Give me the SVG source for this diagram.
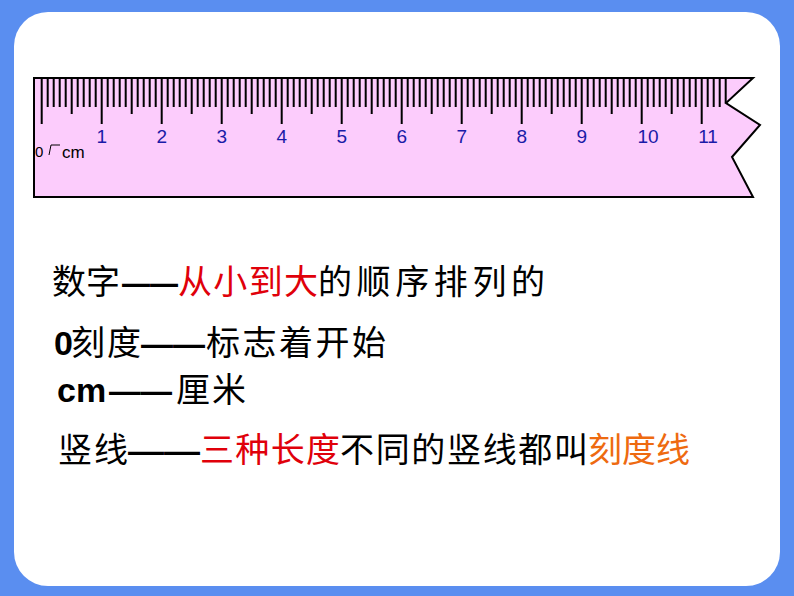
<svg xmlns="http://www.w3.org/2000/svg" width="794" height="596" viewBox="0 0 794 596">
<style>
.t{font-family:"Liberation Sans","Noto Sans CJK SC",sans-serif;font-size:34px;fill:#000}
.d{font-weight:bold}
.r{fill:#e0000a}.o{fill:#ee6a10}
.n{font-family:"Liberation Sans",sans-serif;font-size:19px;fill:#1a1aa8;text-anchor:middle}
</style>
<rect width="794" height="596" fill="#5a8ef0"/>
<rect x="14" y="12" width="766" height="574" rx="34" fill="#fff"/>
<g id="ruler">
<path d="M34,78 H753 L726,103 L760,125 L732,157 L753,197 H34 Z" fill="#fcccfc" stroke="#000" stroke-width="2"/>
<g stroke="#000" stroke-width="2" id="ticks">
<path id="cm" d="M41.7,78V124 M47.7,78V107 M53.7,78V107 M59.7,78V107 M65.7,78V107 M71.7,78V114 M77.7,78V107 M83.7,78V107 M89.7,78V107 M95.7,78V107"/>
<use href="#cm" x="60"/><use href="#cm" x="120"/><use href="#cm" x="180"/><use href="#cm" x="240"/><use href="#cm" x="300"/><use href="#cm" x="360"/><use href="#cm" x="420"/><use href="#cm" x="480"/><use href="#cm" x="540"/><use href="#cm" x="600"/>
<path d="M701.7,78V124 M707.7,78V107 M713.7,78V107 M719.7,78V107 M725.7,78V103"/>
</g>
<text x="35" y="157" font-family="Liberation Sans,sans-serif" font-size="15">0</text>
<text x="62" y="158" font-family="Liberation Sans,sans-serif" font-size="17">cm</text>
<path d="M49,155 L51,145 H60" stroke="#000" fill="none" stroke-width="1"/>
<g class="n"><text x="101.7" y="143">1</text><text x="161.7" y="143">2</text><text x="221.7" y="143">3</text><text x="281.7" y="143">4</text><text x="341.7" y="143">5</text><text x="401.7" y="143">6</text><text x="461.7" y="143">7</text><text x="521.7" y="143">8</text><text x="581.7" y="143">9</text><text x="648" y="143">10</text><text x="708" y="143">11</text></g>
</g>
<g id="text">
<text class="t" y="294"><tspan x="52">数字</tspan><tspan class="d" x="122" textLength="56" lengthAdjust="spacingAndGlyphs">——</tspan><tspan class="r" x="178" textLength="140">从小到大</tspan><tspan x="318" textLength="227">的顺序排列的</tspan></text>
<text class="t" y="355"><tspan x="54" font-weight="bold">0</tspan><tspan x="71" textLength="70">刻度</tspan><tspan class="d" x="141" textLength="64" lengthAdjust="spacingAndGlyphs">——</tspan><tspan x="206" textLength="180">标志着开始</tspan></text>
<text class="t" y="402"><tspan x="57" font-weight="bold">cm</tspan><tspan class="d" x="109" textLength="63" lengthAdjust="spacingAndGlyphs">——</tspan><tspan x="176" textLength="70">厘米</tspan></text>
<text class="t" y="462"><tspan x="58" textLength="70">竖线</tspan><tspan class="d" x="128" textLength="72" lengthAdjust="spacingAndGlyphs">——</tspan><tspan class="r" x="200" textLength="140">三种长度</tspan><tspan x="340" textLength="248">不同的竖线都叫</tspan><tspan class="o" x="588" textLength="102">刻度线</tspan></text>
</g>
</svg>
